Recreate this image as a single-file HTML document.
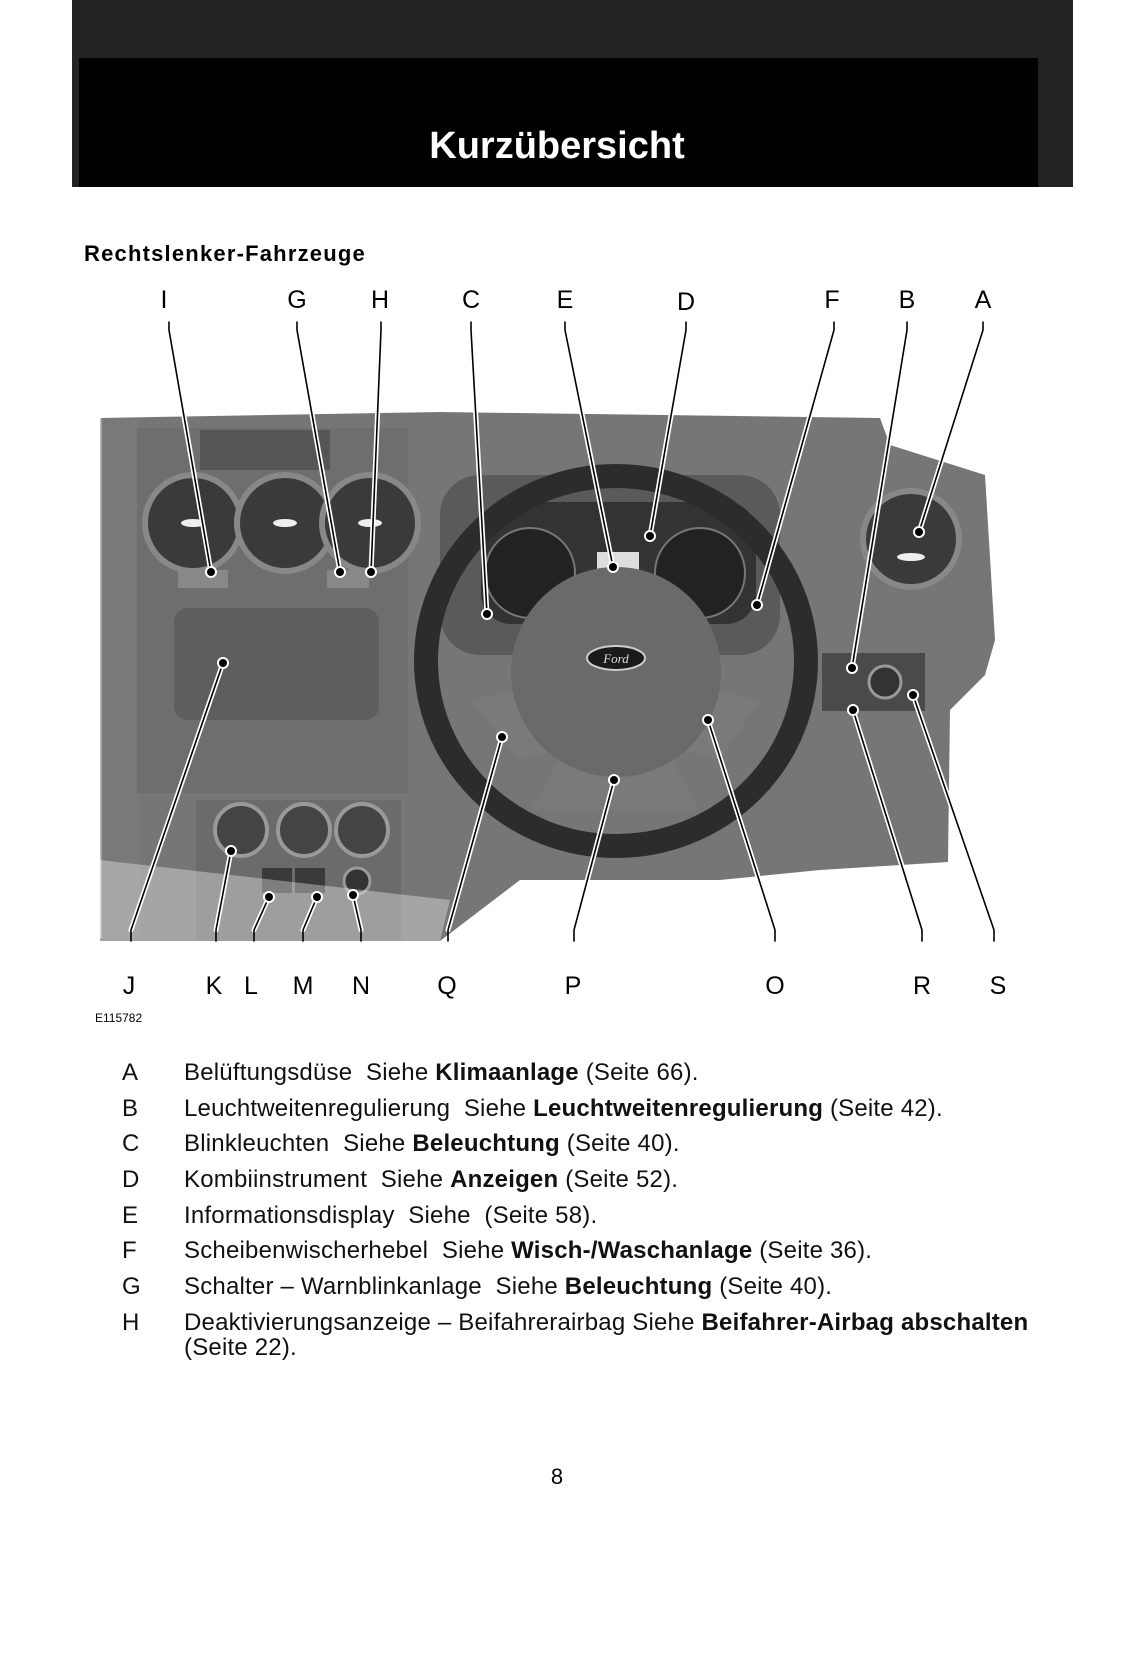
<!DOCTYPE html>
<html><head><meta charset="utf-8"><style>
html,body{margin:0;padding:0;background:#fff;}
body{width:1142px;height:1654px;position:relative;overflow:hidden;font-family:"Liberation Sans",sans-serif;}
.hdr{position:absolute;left:72px;top:0;width:1001px;height:187px;background:#232323;}
.blk{position:absolute;left:79px;top:58px;width:959px;height:129px;background:#000;}
.title{position:absolute;left:0;width:1114px;top:125px;text-align:center;color:#fff;font-weight:bold;font-size:38px;letter-spacing:0px;}
.sub{position:absolute;left:84px;top:241px;font-weight:bold;font-size:22px;letter-spacing:1.2px;}
.lbl{position:absolute;font-size:25px;transform:translateX(-50%);line-height:1;}
.list{position:absolute;left:0;top:0;font-size:24px;color:#111;}
.row{position:absolute;white-space:nowrap;line-height:1;}
.row .k{position:absolute;left:122px;}
.row .t{position:absolute;left:184px;letter-spacing:0.2px;}
b{font-weight:bold;}
</style></head><body>
<div class="hdr"></div><div class="blk"></div>
<div class="title">Kurzübersicht</div>
<div class="sub">Rechtslenker-Fahrzeuge</div>

<svg style="position:absolute;left:0;top:0" width="1142" height="1654">
<defs>
<linearGradient id="lfade" x1="0" y1="0" x2="1" y2="0"><stop offset="0" stop-color="#fff"/><stop offset="0.06" stop-color="#7a7a7a"/></linearGradient>
</defs>
<path d="M100 418 L440 412 L880 418 L890 445 L985 475 L995 640 L985 675 L950 710 L948 862 L820 870 L720 880 L520 880 L440 941 L100 941 Z" fill="#767676"/>
<rect x="100" y="418" width="40" height="520" fill="url(#lfade)" opacity="0.7"/>
<path d="M137 428 L408 428 L408 793 L137 793 Z" fill="#6e6e6e"/>
<path d="M200 430 L330 430 L330 470 L200 470 Z" fill="#555"/>
<circle cx="193" cy="523" r="48" fill="#3a3a3a" stroke="#888" stroke-width="6"/>
<circle cx="285" cy="523" r="48" fill="#3a3a3a" stroke="#888" stroke-width="6"/>
<circle cx="370" cy="523" r="48" fill="#3a3a3a" stroke="#888" stroke-width="6"/>
<ellipse cx="193" cy="523" rx="12" ry="4" fill="#eee"/><ellipse cx="285" cy="523" rx="12" ry="4" fill="#eee"/><ellipse cx="370" cy="523" rx="12" ry="4" fill="#eee"/>
<rect x="178" y="570" width="50" height="18" fill="#888"/><rect x="327" y="570" width="42" height="18" fill="#888"/>
<rect x="174" y="608" width="205" height="112" rx="14" fill="#5e5e5e"/>
<circle cx="911" cy="539" r="48" fill="#3a3a3a" stroke="#888" stroke-width="6"/>
<ellipse cx="911" cy="557" rx="14" ry="4" fill="#eee"/>
<rect x="822" y="653" width="103" height="58" fill="#4a4a4a"/>
<circle cx="885" cy="682" r="16" fill="#333" stroke="#999" stroke-width="3"/>
<rect x="440" y="475" width="340" height="180" rx="40" fill="#5a5a5a"/>
<rect x="481" y="502" width="275" height="122" rx="30" fill="#333"/>
<circle cx="530" cy="573" r="45" fill="#222" stroke="#777" stroke-width="2"/>
<circle cx="700" cy="573" r="45" fill="#222" stroke="#777" stroke-width="2"/>
<rect x="597" y="552" width="42" height="30" fill="#ddd"/>
<ellipse cx="616" cy="661" rx="190" ry="185" fill="none" stroke="#2c2c2c" stroke-width="24"/>
<path d="M470 700 L560 680 L600 740 L520 760 Z" fill="#7a7a7a"/>
<path d="M670 680 L760 700 L720 760 L640 740 Z" fill="#7a7a7a"/>
<path d="M560 760 L672 760 L700 810 L530 810 Z" fill="#7a7a7a"/>
<circle cx="616" cy="672" r="105" fill="#6a6a6a"/>
<ellipse cx="616" cy="658" rx="29" ry="12" fill="#1a1a1a" stroke="#ccc" stroke-width="2"/>
<text x="616" y="663" font-size="13" font-style="italic" fill="#ddd" text-anchor="middle" font-family="Liberation Serif">Ford</text>
<rect x="196" y="800" width="205" height="141" fill="#6b6b6b"/>
<circle cx="241" cy="830" r="26" fill="#444" stroke="#999" stroke-width="4"/>
<circle cx="304" cy="830" r="26" fill="#444" stroke="#999" stroke-width="4"/>
<circle cx="362" cy="830" r="26" fill="#444" stroke="#999" stroke-width="4"/>
<rect x="262" y="868" width="30" height="25" fill="#3a3a3a"/><rect x="295" y="868" width="30" height="25" fill="#3a3a3a"/>
<circle cx="357" cy="881" r="13" fill="#333" stroke="#999" stroke-width="3"/>
<path d="M100 860 L100 941 L440 941 L450 900 Z" fill="#fff" opacity="0.35"/>
<g fill="none" stroke-linecap="round">
<g stroke="#fff" stroke-width="5">
<path d="M169 330L211 572M297 330L340 572M381 330L371 572M471 330L487 614M565 330L613 567M686 330L650 536M834 330L757 605M907 330L852 668M983 330L919 532"/>
<path d="M131 930L223 663M216 930L231 851M254 930L269 897M303 930L317 897M361 930L353 895M448 930L502 737M574 930L614 780M775 930L708 720M922 930L853 710M994 930L913 695"/>
</g>
<g stroke="#000" stroke-width="1.6">
<path d="M169 322L169 330L211 572M297 322L297 330L340 572M381 322L381 330L371 572M471 322L471 330L487 614M565 322L565 330L613 567M686 322L686 330L650 536M834 322L834 330L757 605M907 322L907 330L852 668M983 322L983 330L919 532"/>
<path d="M131 941L131 930L223 663M216 941L216 930L231 851M254 941L254 930L269 897M303 941L303 930L317 897M361 941L361 930L353 895M448 941L448 930L502 737M574 941L574 930L614 780M775 941L775 930L708 720M922 941L922 930L853 710M994 941L994 930L913 695"/>
</g>
</g>
<g fill="#000" stroke="#fff" stroke-width="2">
<circle cx="211" cy="572" r="5"/><circle cx="340" cy="572" r="5"/><circle cx="371" cy="572" r="5"/><circle cx="487" cy="614" r="5"/><circle cx="613" cy="567" r="5"/><circle cx="650" cy="536" r="5"/><circle cx="757" cy="605" r="5"/><circle cx="852" cy="668" r="5"/><circle cx="919" cy="532" r="5"/>
<circle cx="223" cy="663" r="5"/><circle cx="231" cy="851" r="5"/><circle cx="269" cy="897" r="5"/><circle cx="317" cy="897" r="5"/><circle cx="353" cy="895" r="5"/><circle cx="502" cy="737" r="5"/><circle cx="614" cy="780" r="5"/><circle cx="708" cy="720" r="5"/><circle cx="853" cy="710" r="5"/><circle cx="913" cy="695" r="5"/>
</g>
</svg>

<div class="lbl" style="left:164px;top:288px">I</div>
<div class="lbl" style="left:297px;top:288px">G</div>
<div class="lbl" style="left:380px;top:288px">H</div>
<div class="lbl" style="left:471px;top:288px">C</div>
<div class="lbl" style="left:565px;top:288px">E</div>
<div class="lbl" style="left:686px;top:290px">D</div>
<div class="lbl" style="left:832px;top:288px">F</div>
<div class="lbl" style="left:907px;top:288px">B</div>
<div class="lbl" style="left:983px;top:288px">A</div>

<div class="lbl" style="left:129px;top:974px">J</div>
<div class="lbl" style="left:214px;top:974px">K</div>
<div class="lbl" style="left:251px;top:974px">L</div>
<div class="lbl" style="left:303px;top:974px">M</div>
<div class="lbl" style="left:361px;top:974px">N</div>
<div class="lbl" style="left:447px;top:974px">Q</div>
<div class="lbl" style="left:573px;top:974px">P</div>
<div class="lbl" style="left:775px;top:974px">O</div>
<div class="lbl" style="left:922px;top:974px">R</div>
<div class="lbl" style="left:998px;top:974px">S</div>
<div style="position:absolute;left:95px;top:1011px;font-size:12px;">E115782</div>

<div class="list">
<div class="row" style="top:1061px"><span class="k">A</span><span class="t">Belüftungsdüse&nbsp; Siehe <b>Klimaanlage</b> (Seite 66).</span></div>
<div class="row" style="top:1097px"><span class="k">B</span><span class="t">Leuchtweitenregulierung&nbsp; Siehe <b>Leuchtweitenregulierung</b> (Seite 42).</span></div>
<div class="row" style="top:1132px"><span class="k">C</span><span class="t">Blinkleuchten&nbsp; Siehe <b>Beleuchtung</b> (Seite 40).</span></div>
<div class="row" style="top:1168px"><span class="k">D</span><span class="t">Kombiinstrument&nbsp; Siehe <b>Anzeigen</b> (Seite 52).</span></div>
<div class="row" style="top:1204px"><span class="k">E</span><span class="t">Informationsdisplay&nbsp; Siehe&nbsp; (Seite 58).</span></div>
<div class="row" style="top:1239px"><span class="k">F</span><span class="t">Scheibenwischerhebel&nbsp; Siehe <b>Wisch-/Waschanlage</b> (Seite 36).</span></div>
<div class="row" style="top:1275px"><span class="k">G</span><span class="t">Schalter – Warnblinkanlage&nbsp; Siehe <b>Beleuchtung</b> (Seite 40).</span></div>
<div class="row" style="top:1311px"><span class="k">H</span><span class="t">Deaktivierungsanzeige – Beifahrerairbag Siehe <b>Beifahrer-Airbag abschalten</b></span></div>
<div class="row" style="top:1336px"><span class="t">(Seite 22).</span></div>
</div>
<div style="position:absolute;left:0;width:1114px;text-align:center;top:1464px;font-size:22px;">8</div>
</body></html>
